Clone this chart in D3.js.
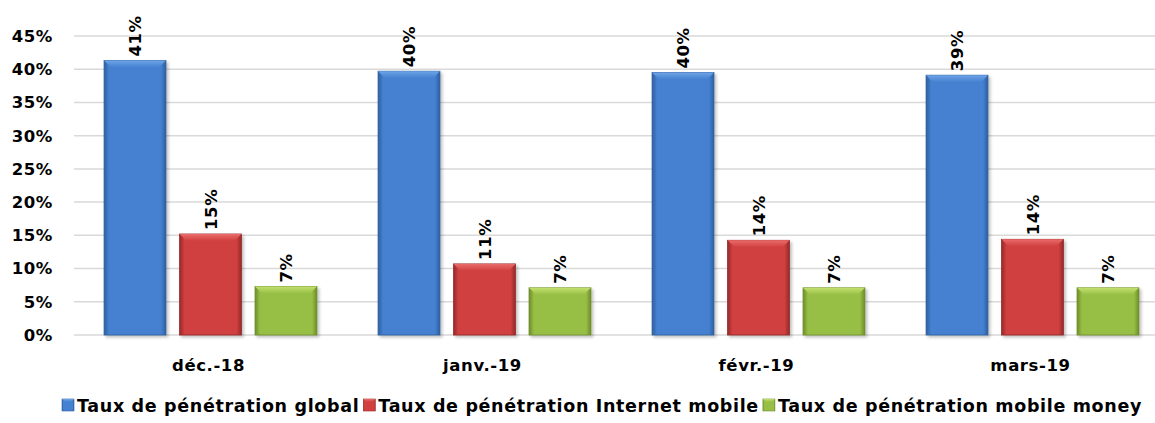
<!DOCTYPE html>
<html>
<head>
<meta charset="utf-8">
<script src="https://cdn.jsdelivr.net/npm/d3@7"></script>
<style>
  body { margin: 0; background: #fff; }
  svg { display: block; font-family: "Century Gothic", "URW Gothic", "DejaVu Sans", sans-serif; font-weight: bold; }
</style>
</head>
<body>
<svg id="chart" viewBox="0 0 1155 423" width="1155" height="423"></svg>
<script>
const categories = ["déc.-18", "janv.-19", "févr.-19", "mars-19"];
const seriesNames = ["Taux de pénétration global", "Taux de pénétration Internet mobile", "Taux de pénétration mobile money"];
const global = [41.3, 39.7, 39.5, 39.1];
const internet = [15.2, 10.7, 14.25, 14.4];
const money = [7.3, 7.1, 7.1, 7.1];
const yTicks = [0, 5, 10, 15, 20, 25, 30, 35, 40, 45];

const colors = [
    { main: "#4481d0", light: "#6ea3e6", dark: "#2f5f9e" },
    { main: "#d13f3f", light: "#ea6b6b", dark: "#952a2a" },
    { main: "#98bf45", light: "#c2e06e", dark: "#6d8c2c" }
];

const svg = d3.select("#chart");
const width = 1155;
const fs = 16.5, ls = 0.6;
const rows = categories.map((c, i) => ({ cat: c, vals: [global[i], internet[i], money[i]] }));

const y = d3.scaleLinear().domain([0, 45]).range([335, 36]);
const x0 = d3.scaleBand().domain(categories).range([73.5, 1169.5]);
const x1 = d3.scaleBand().domain([0, 1, 2]).range([0, x0.bandwidth()])
    .paddingInner(0.18).paddingOuter(0.405);

// gradients per series
const defs = svg.append("defs");
colors.forEach((c, i) => {
    const g = defs.append("linearGradient").attr("id", "grad" + i)
        .attr("x1", 0).attr("x2", 1).attr("y1", 0).attr("y2", 0);
    g.append("stop").attr("offset", "0%").attr("stop-color", c.dark);
    g.append("stop").attr("offset", "8%").attr("stop-color", c.main);
    g.append("stop").attr("offset", "92%").attr("stop-color", c.main);
    g.append("stop").attr("offset", "100%").attr("stop-color", c.dark);
    const t = defs.append("linearGradient").attr("id", "top" + i)
        .attr("x1", 0).attr("x2", 0).attr("y1", 0).attr("y2", 1);
    t.append("stop").attr("offset", "0%").attr("stop-color", c.light);
    t.append("stop").attr("offset", "100%").attr("stop-color", c.main);
});
const shadow = defs.append("filter").attr("id", "shadow")
    .attr("x", "-10%").attr("y", "-10%").attr("width", "130%").attr("height", "130%");
shadow.append("feDropShadow").attr("dx", 2).attr("dy", 2).attr("stdDeviation", 1.5)
    .attr("flood-color", "#000").attr("flood-opacity", 0.25);

// gridlines
svg.append("g").selectAll("line")
    .data(yTicks)
    .enter().append("line")
    .attr("x1", 74).attr("x2", width)
    .attr("y1", d => y(d)).attr("y2", d => y(d))
    .attr("stroke", "#d9d9d9").attr("stroke-width", 1.5);

// y axis labels
svg.append("g").selectAll("text")
    .data(yTicks)
    .enter().append("text")
    .attr("x", 53).attr("y", d => y(d)).attr("dy", "0.36em")
    .attr("text-anchor", "end").attr("font-size", fs).attr("letter-spacing", ls)
    .attr("fill", "#000")
    .text(d => d + "%");

// bars
const groups = svg.append("g").selectAll("g")
    .data(rows)
    .enter().append("g")
    .attr("transform", d => `translate(${x0(d.cat)},0)`);

const bars = groups.selectAll("g.bar")
    .data(d => d.vals.map((v, i) => ({ v, i })))
    .enter().append("g").attr("class", "bar");

bars.append("rect")
    .attr("x", d => x1(d.i))
    .attr("y", d => y(d.v))
    .attr("width", x1.bandwidth())
    .attr("height", d => y(0) - y(d.v))
    .attr("fill", d => `url(#grad${d.i})`)
    .attr("stroke", d => colors[d.i].dark)
    .attr("stroke-width", 0.8)
    .attr("filter", "url(#shadow)");

// top bevel
const bev = 7;
bars.append("path")
    .attr("d", d => {
        const xl = x1(d.i), xr = xl + x1.bandwidth(), yt = y(d.v);
        return `M${xl},${yt}L${xr},${yt}L${xr - bev},${yt + bev}L${xl + bev},${yt + bev}Z`;
    })
    .attr("fill", d => `url(#top${d.i})`);

// value labels (rotated)
bars.append("text")
    .attr("transform", d => `translate(${x1(d.i) + x1.bandwidth() / 2 + 6},${y(d.v) - 4}) rotate(-90)`)
    .attr("text-anchor", "start")
    .attr("font-size", fs).attr("letter-spacing", ls)
    .attr("fill", "#000")
    .text(d => Math.round(d.v) + "%");

// category labels
svg.append("g").selectAll("text")
    .data(categories)
    .enter().append("text")
    .attr("x", d => x0(d) + x0.bandwidth() / 2 - 2)
    .attr("y", 371)
    .attr("text-anchor", "middle")
    .attr("font-size", fs).attr("letter-spacing", ls)
    .attr("fill", "#000")
    .text(d => d);

// legend, spread to the reference's span (x 62 .. 1146)
const legend = svg.append("g").attr("transform", "translate(62,0)");
const items = seriesNames.map((name, i) => {
    const item = legend.append("g");
    item.append("rect").attr("x", 0).attr("y", 399).attr("width", 12).attr("height", 12)
        .attr("fill", `url(#grad${i})`).attr("stroke", colors[i].dark).attr("stroke-width", 0.6);
    item.append("path")
        .attr("d", "M0,399L12,399L9,402L3,402Z")
        .attr("fill", `url(#top${i})`);
    const t = item.append("text").attr("x", 15).attr("y", 412)
        .attr("font-size", 17.5).attr("fill", "#000").text(name);
    return { item, t };
});
const nChars = d3.sum(seriesNames, s => s.length);
const rawW = d3.sum(items, d => 15 + d.t.node().getComputedTextLength() + 4);
const extra = Math.max(0, (1084 - rawW) / nChars);
let lx = 0;
items.forEach(d => {
    d.t.attr("letter-spacing", extra);
    d.item.attr("transform", `translate(${lx},0)`);
    lx += 15 + d.t.node().getComputedTextLength() + 4;
});
</script>
</body>
</html>
